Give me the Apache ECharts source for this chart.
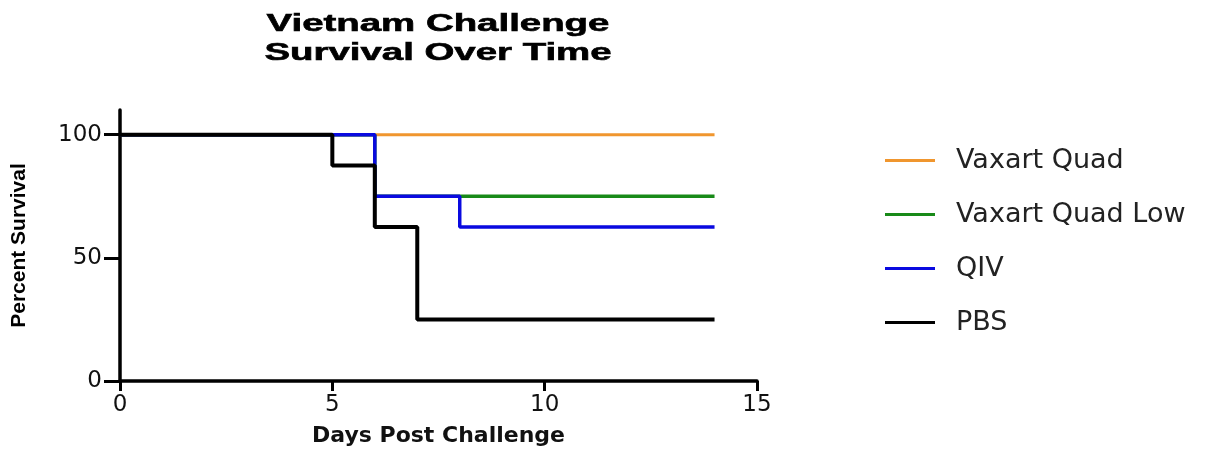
<!DOCTYPE html>
<html>
<head>
<meta charset="utf-8">
<script src="https://cdn.jsdelivr.net/npm/echarts@6/dist/echarts.min.js"></script>
<style>
html,body{margin:0;padding:0;background:#fff;}
#chart{width:1217px;height:452px;}
</style>
</head>
<body>
<div id="chart"></div>
<script>
// ---- data ----
const titleLines = ['Vietnam Challenge', 'Survival Over Time'];
const xAxisName = 'Days Post Challenge';
const yAxisName = 'Percent Survival';
const seriesNames = ['Vaxart Quad', 'Vaxart Quad Low', 'QIV', 'PBS'];
const quadDays = [0, 14];
const quadSurv = [100, 100];
const quadLowDays = [0, 6, 14];
const quadLowSurv = [100, 75, 75];
const qivDays = [0, 6, 8, 14];
const qivSurv = [100, 75, 62.5, 62.5];
const pbsDays = [0, 5, 6, 7, 14];
const pbsSurv = [100, 87.5, 62.5, 25, 25];
const xTicks = [0, 5, 10, 15];
const yTicks = [0, 50, 100];

const colors = ['#F0962E', '#188A18', '#0A0AE0', '#000000'];
const zs = [2, 3, 4, 5];
const widths = [3, 3.5, 3.5, 4];

function pairs(xs, ys) { return xs.map((x, i) => [x, ys[i]]); }
const allData = [
  pairs(quadDays, quadSurv),
  pairs(quadLowDays, quadLowSurv),
  pairs(qivDays, qivSurv),
  pairs(pbsDays, pbsSurv)
];

const chart = echarts.init(document.getElementById('chart'), null, {renderer: 'canvas'});
const axisFont = 'DejaVu Sans';
chart.setOption({
  backgroundColor: '#fff',
  animation: false,
  graphic: [{
    type: 'text',
    x: 438, y: 38.5,
    scaleX: 1.6,
    style: {
      text: titleLines.join('\n'),
      font: 'bold 24px "Liberation Sans"',
      fill: '#000',
      stroke: '#000',
      lineWidth: 0.6,
      align: 'center',
      verticalAlign: 'middle',
      lineHeight: 29
    }
  }],
  grid: {left: 120, right: 460, top: 110, bottom: 70, containLabel: false},
  legend: {
    orient: 'vertical',
    left: 880, top: 142,
    icon: 'rect',
    itemWidth: 50, itemHeight: 3, itemGap: 27,
    data: seriesNames,
    textStyle: {fontFamily: axisFont, fontSize: 27, lineHeight: 27, color: '#222', padding: [0, 0, 0, 16]}
  },
  xAxis: {
    type: 'value', min: 0, max: 15, interval: 5,
    name: xAxisName, nameLocation: 'middle', nameGap: 44,
    nameTextStyle: {fontFamily: axisFont, fontWeight: 'bold', fontSize: 22, color: '#111'},
    axisLine: {show: true, onZero: false, lineStyle: {color: '#000', width: 3.5}},
    axisTick: {show: true, length: 10, customValues: xTicks, lineStyle: {color: '#000', width: 3}},
    axisLabel: {fontFamily: axisFont, fontSize: 23, color: '#111', margin: 13, customValues: xTicks},
    splitLine: {show: false}
  },
  yAxis: {
    type: 'value', min: 0, max: 110,
    name: yAxisName, nameLocation: 'middle', nameGap: 90, nameRotate: 90,
    nameTextStyle: {fontFamily: 'Liberation Sans', fontWeight: 'bold', fontSize: 21, color: '#000'},
    axisLine: {show: true, onZero: false, lineStyle: {color: '#000', width: 3.5}},
    axisTick: {show: true, length: 16, customValues: yTicks, lineStyle: {color: '#000', width: 3}},
    axisLabel: {fontFamily: axisFont, fontSize: 23, color: '#111', margin: 18, customValues: yTicks},
    splitLine: {show: false}
  },
  series: seriesNames.map((name, i) => ({
    name: name,
    type: 'line',
    step: 'end',
    symbol: 'none',
    z: zs[i],
    color: colors[i],
    lineStyle: {color: colors[i], width: widths[i]},
    data: allData[i]
  }))
});
</script>
</body>
</html>
